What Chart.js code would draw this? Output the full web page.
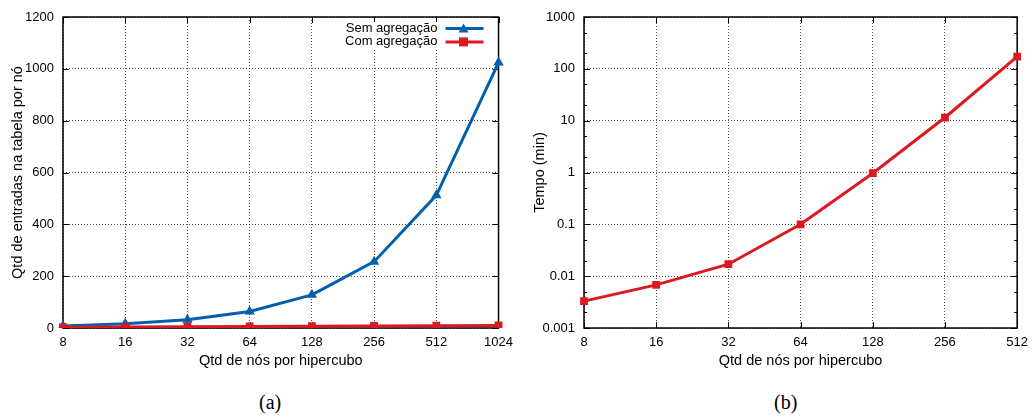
<!DOCTYPE html>
<html>
<head>
<meta charset="utf-8">
<script src="https://cdn.jsdelivr.net/npm/chart.js@4"></script>
<style>
  body { margin: 0; background: #fff; width: 1035px; height: 417px; position: relative; overflow: hidden; }
  canvas { position: absolute; top: 0; }
  #chartA { left: 0; }
  #chartB { left: 520px; }
  .sub { position: absolute; top: 391px; font: 20px "Liberation Serif", "Times New Roman", serif; color: #000; }
</style>
</head>
<body>
<canvas id="chartA" width="520" height="375"></canvas>
<canvas id="chartB" width="515" height="375"></canvas>
<div class="sub" style="left:259px">(a)</div>
<div class="sub" style="left:774px">(b)</div>
<script>
const nodes = ['8', '16', '32', '64', '128', '256', '512', '1024'];
const semAgregacao = [8, 16, 32, 64, 128, 256, 512, 1024];
const comAgregacao = [3, 4, 5, 6, 7, 8, 9, 10];
const entradasTicks = [0, 200, 400, 600, 800, 1000, 1200];

const nodesTempo = ['8', '16', '32', '64', '128', '256', '512'];
const tempoMin = [0.0033, 0.0068, 0.017, 0.1, 0.97, 11.5, 172];
const tempoTicks = [0.001, 0.01, 0.1, 1, 10, 100, 1000];
const tempoMinorTicks = [2, 5];

const BLUE = '#0060ad';
const RED = '#dd181f';
const FONT = '"Liberation Sans", Arial, Helvetica, sans-serif';

Chart.defaults.font.family = FONT;
Chart.defaults.font.size = 13;
Chart.defaults.color = '#000';

// gnuplot style frame, inward ticks and in-plot legend
const gnuFrame = {
  id: 'gnuFrame',
  beforeDatasetsDraw(chart, args, opts) {
    const { ctx, chartArea: a, scales } = chart;
    ctx.save();
    ctx.strokeStyle = '#000';
    ctx.lineWidth = 1;
    ctx.beginPath();
    const y = scales.y;
    y.ticks.forEach(t => {
      const py = Math.round(y.getPixelForValue(t.value)) + 0.5;
      ctx.moveTo(a.left, py); ctx.lineTo(a.left + 6, py);
      ctx.moveTo(a.right, py); ctx.lineTo(a.right - 6, py);
    });
    if (opts.minor) {
      for (let i = 0; i < y.ticks.length - 1; i++) {
        opts.minor.forEach(m => {
          const py = Math.round(y.getPixelForValue(y.ticks[i].value * m)) + 0.5;
          ctx.moveTo(a.left, py); ctx.lineTo(a.left + 3, py);
          ctx.moveTo(a.right, py); ctx.lineTo(a.right - 3, py);
        });
      }
    }
    const x = scales.x;
    x.ticks.forEach((t, i) => {
      const px = Math.round(x.getPixelForTick(i)) + 0.5;
      ctx.moveTo(px, a.bottom); ctx.lineTo(px, a.bottom - 6);
      ctx.moveTo(px, a.top); ctx.lineTo(px, a.top + 6);
    });
    ctx.stroke();
    ctx.lineWidth = 1.5;
    ctx.strokeRect(a.left, a.top, a.right - a.left, a.bottom - a.top);
    ctx.restore();
  },
  afterDraw(chart, args, opts) {
    if (!opts.legend) return;
    const { ctx, chartArea: a } = chart;
    ctx.save();
    ctx.font = '13px ' + FONT;
    ctx.textAlign = 'right';
    ctx.textBaseline = 'middle';
    const xr = a.right - 61;
    // opaque key box, hides the grid behind the text
    const w = Math.max(...opts.legend.map(i => ctx.measureText(chart.data.datasets[i].label).width));
    ctx.fillStyle = '#fff';
    ctx.fillRect(xr - w - 2, a.top + 5, w + 52, 13.4 * opts.legend.length + 0.5);
    opts.legend.forEach((idx, row) => {
      const ds = chart.data.datasets[idx];
      const yy = a.top + 11.5 + row * 13.4;
      ctx.fillStyle = '#000';
      ctx.fillText(ds.label, xr, yy);
      ctx.strokeStyle = ds.borderColor;
      ctx.lineWidth = 3;
      ctx.beginPath();
      ctx.moveTo(xr + 8, yy); ctx.lineTo(xr + 46, yy);
      ctx.stroke();
      ctx.fillStyle = ds.borderColor;
      const cx = xr + 26;
      ctx.beginPath();
      if (ds.pointStyle === 'triangle') {
        ctx.moveTo(cx, yy - 5); ctx.lineTo(cx + 5, yy + 4); ctx.lineTo(cx - 5, yy + 4);
      } else {
        ctx.rect(cx - 4.5, yy - 4.5, 9, 9);
      }
      ctx.fill();
    });
    ctx.restore();
  }
};

const gridStyle = { color: 'rgba(0,0,0,0.7)', lineWidth: 1, drawTicks: false };
const gridBorder = { display: false, dash: [1, 2] };
const titleFont = { size: 14.5 };

function axisX(labels) {
  return {
    type: 'category',
    labels: labels,
    offset: false,
    grid: gridStyle,
    border: gridBorder,
    ticks: { padding: 7, maxRotation: 0, autoSkip: false },
    title: { display: true, text: 'Qtd de nós por hipercubo', font: titleFont, padding: { top: 0, bottom: 0 } },
    afterFit(s) { s.height = 42; }
  };
}

new Chart(document.getElementById('chartA'), {
  type: 'line',
  data: {
    labels: nodes,
    datasets: [
      { label: 'Sem agregação', data: semAgregacao, borderColor: BLUE, backgroundColor: BLUE,
        borderWidth: 3, pointStyle: 'triangle', pointRadius: 6, pointBorderWidth: 0, order: 1 },
      { label: 'Com agregação', data: comAgregacao, borderColor: RED, backgroundColor: RED,
        borderWidth: 3, pointStyle: 'rect', pointRadius: 5.5, pointBorderWidth: 0, order: 0 }
    ]
  },
  options: {
    responsive: false,
    animation: false,
    layout: { padding: { left: 9, right: 12, top: 17, bottom: 5 } },
    plugins: { legend: { display: false }, tooltip: { enabled: false },
      gnuFrame: { legend: [0, 1] } },
    scales: {
      x: axisX(nodes),
      y: {
        min: 0, max: 1200,
        grid: gridStyle,
        border: gridBorder,
        ticks: { padding: 9, callback: v => String(v) },
        afterBuildTicks(s) { s.ticks = entradasTicks.map(v => ({ value: v })); },
        title: { display: true, text: 'Qtd de entradas na tabela por nó', font: titleFont, padding: { top: 0, bottom: 0 } },
        afterFit(s) { s.width = 54; }
      }
    }
  },
  plugins: [gnuFrame]
});

new Chart(document.getElementById('chartB'), {
  type: 'line',
  data: {
    labels: nodesTempo,
    datasets: [
      { label: 'Tempo', data: tempoMin, borderColor: RED, backgroundColor: RED,
        borderWidth: 3, pointStyle: 'rect', pointRadius: 5.5, pointBorderWidth: 0 }
    ]
  },
  options: {
    responsive: false,
    animation: false,
    layout: { padding: { left: 11, right: 13, top: 17, bottom: 5 } },
    plugins: { legend: { display: false }, tooltip: { enabled: false },
      gnuFrame: { minor: tempoMinorTicks } },
    scales: {
      x: axisX(nodesTempo),
      y: {
        type: 'logarithmic',
        min: 0.001, max: 1000,
        grid: gridStyle,
        border: gridBorder,
        ticks: { padding: 9, callback: v => String(v) },
        afterBuildTicks(s) { s.ticks = tempoTicks.map(v => ({ value: v })); },
        title: { display: true, text: 'Tempo (min)', font: titleFont, padding: { top: 0, bottom: 0 } },
        afterFit(s) { s.width = 53; }
      }
    }
  },
  plugins: [gnuFrame]
});
</script>
</body>
</html>
